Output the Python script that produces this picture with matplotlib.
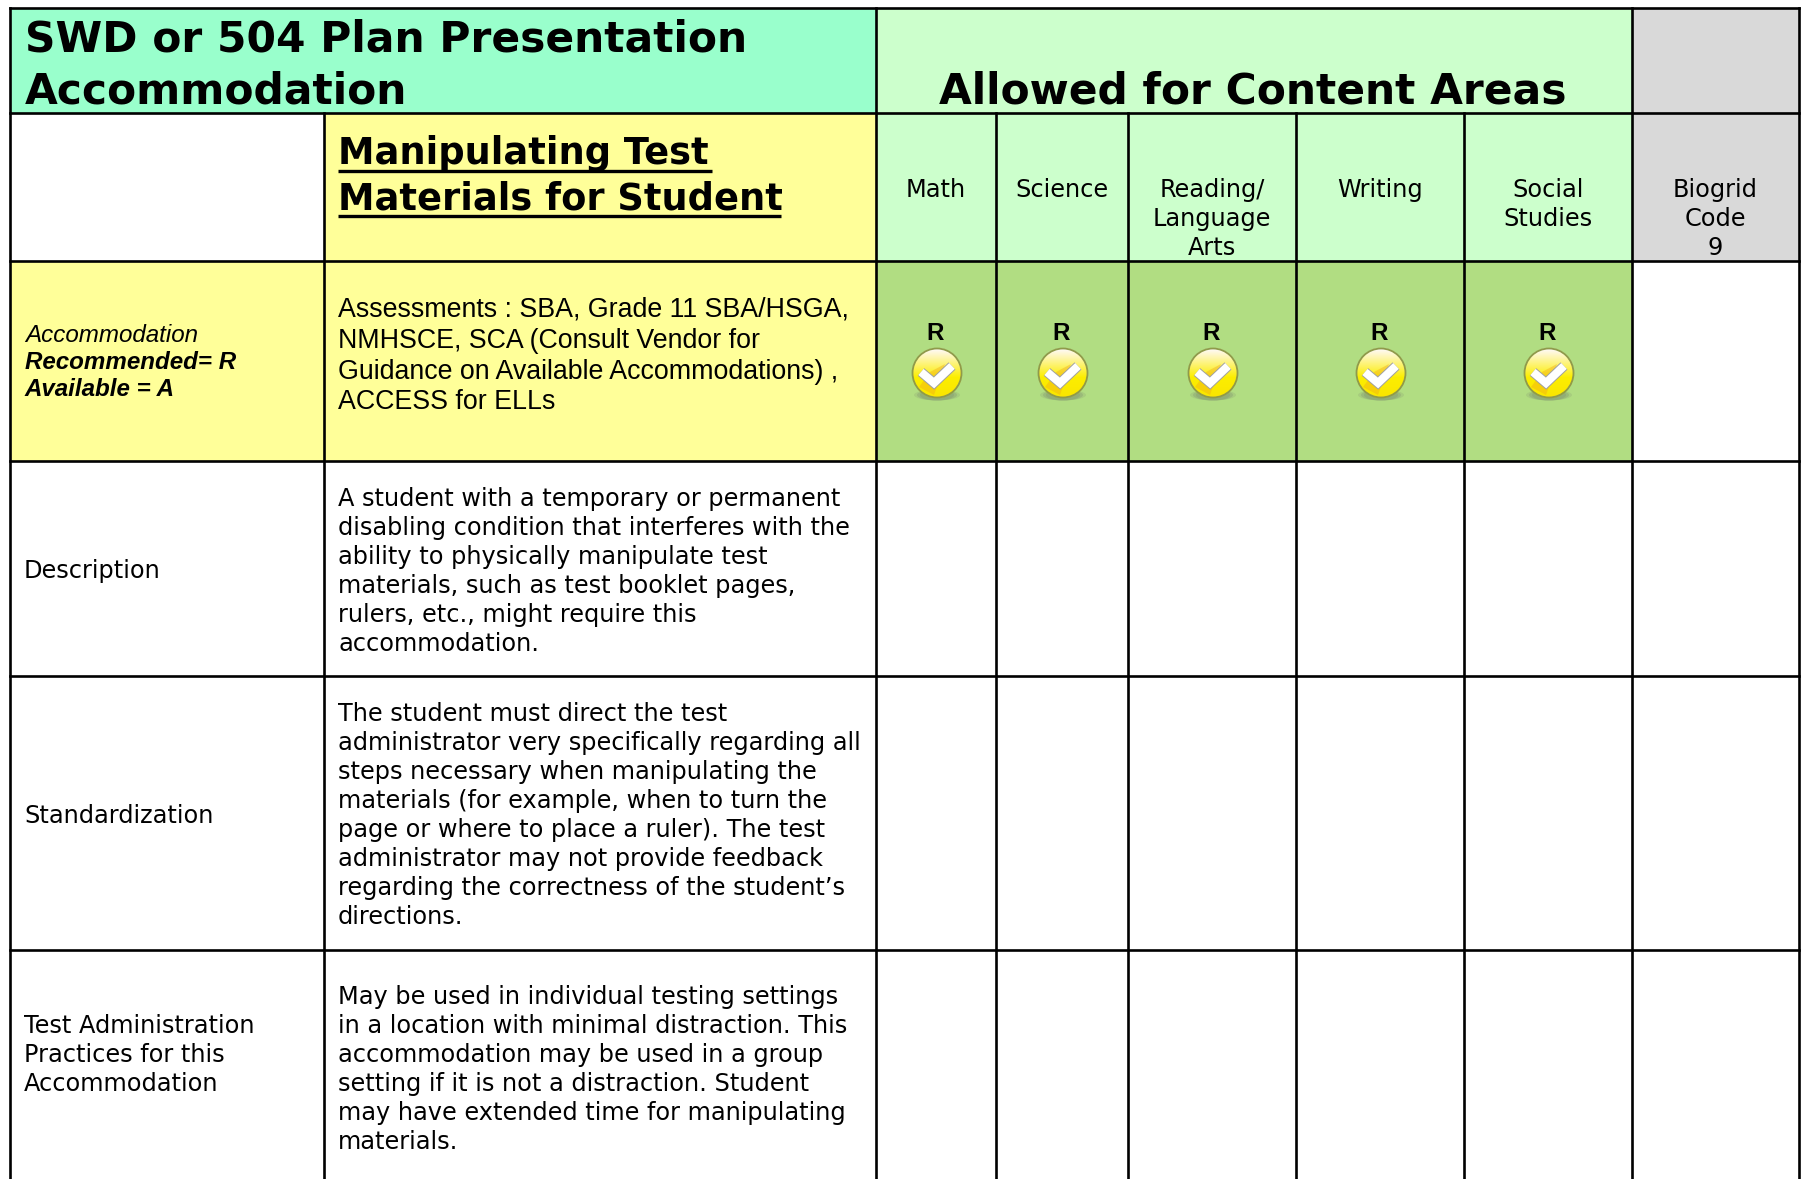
import numpy as np
import matplotlib
matplotlib.use('Agg')
import matplotlib.pyplot as plt
from matplotlib.patches import Rectangle, Circle, Ellipse, Polygon

# table edges in pixels
col_edges = [10, 324, 876, 996, 1128, 1296, 1464, 1632, 1799]
row_edges = [8, 113, 261, 461, 676, 950, 1179]

subjects = ['Math', 'Science', 'Reading/\nLanguage\nArts', 'Writing', 'Social\nStudies', 'Biogrid\nCode\n9']
subject_marks = ['R', 'R', 'R', 'R', 'R']

title_lines = ['SWD or 504 Plan Presentation', 'Accommodation']
allowed_title = 'Allowed for Content Areas'
heading_lines = ['Manipulating Test', 'Materials for Student']
assess_lines = ['Assessments : SBA, Grade 11 SBA/HSGA,',
                'NMHSCE, SCA (Consult Vendor for',
                'Guidance on Available Accommodations) ,',
                'ACCESS for ELLs']
key_lines = ['Accommodation', 'Recommended= R', 'Available = A']
row_labels = ['Description', 'Standardization', 'Test Administration\nPractices for this\nAccommodation']
descr_lines = ['A student with a temporary or permanent',
               'disabling condition that interferes with the',
               'ability to physically manipulate test',
               'materials, such as test booklet pages,',
               'rulers, etc., might require this',
               'accommodation.']
stand_lines = ['The student must direct the test',
               'administrator very specifically regarding all',
               'steps necessary when manipulating the',
               'materials (for example, when to turn the',
               'page or where to place a ruler). The test',
               'administrator may not provide feedback',
               'regarding the correctness of the student\u2019s',
               'directions.']
admin_lines = ['May be used in individual testing settings',
               'in a location with minimal distraction. This',
               'accommodation may be used in a group',
               'setting if it is not a distraction. Student',
               'may have extended time for manipulating',
               'materials.']

MINT = '#99FFCC'
LIGHT = '#CCFFCC'
YELLOW = '#FFFF99'
GREY = '#D9D9D9'
GREEN = '#B1DD82'
LW = 1.9
BODY = 17.3
SANS = 'DejaVu Sans'
ARIAL = 'Liberation Sans'

fig = plt.figure(figsize=(18.09, 11.79), dpi=100)
ax = fig.add_axes([0, 0, 1, 1])
ax.set_xlim(0, 1809)
ax.set_ylim(1179, 0)
ax.axis('off')


def fill(x0, x1, y0, y1, color):
    ax.add_patch(Rectangle((x0, y0), x1 - x0, y1 - y0, fc=color, ec='none', zorder=1))


def lines(x, y, rows, pitch, size, **kw):
    for i, s in enumerate(rows):
        ax.text(x, y + i * pitch, s, fontsize=size, va='baseline', color='black', zorder=5, **kw)


def check_icon(cx, cy, r=25):
    # soft shadow under the ball
    for w, a in [(46, 0.2), (40, 0.3), (34, 0.3)]:
        ax.add_patch(Ellipse((cx, cy + 22), w, 11, fc='#7F8F70', ec='none', alpha=a, zorder=3))
    # yellow ball, pale at top going to strong yellow at the bottom
    g = np.linspace(0, 1, 64)
    rgb = np.ones((64, 1, 3))
    rgb[:, 0, 0] = 1 - 0.02 * g
    rgb[:, 0, 1] = 0.98 - 0.08 * g
    rgb[:, 0, 2] = np.clip(1.0 - 1.7 * g, 0, 1)
    im = ax.imshow(rgb, extent=(cx - r, cx + r, cy + r, cy - r), aspect='auto', zorder=4)
    im.set_clip_path(Circle((cx, cy), r, transform=ax.transData))
    ax.add_patch(Polygon([(cx - 18, cy + 14), (cx - 7, cy - 1), (cx + 8, cy - 9), (cx - 3, cy + 22)],
                         fc='#F0A818', ec='none', alpha=0.4, zorder=4.1))
    ax.add_patch(Circle((cx, cy), r - 0.5, fc='none', ec='#8F9A4A', lw=1.3, zorder=4.4))
    px = [cx - 16, cx - 3, cx + 15]
    py = [cy - 1, cy + 10, cy - 7]
    ax.plot(px, py, color='#A0A0A0', lw=7.2, solid_joinstyle='miter', solid_capstyle='butt', zorder=4.5)
    ax.plot(px, py, color='white', lw=5.8, solid_joinstyle='miter', solid_capstyle='butt', zorder=4.6)


c = col_edges
r = row_edges
fill(c[0], c[2], r[0], r[1], MINT)
fill(c[2], c[7], r[0], r[1], LIGHT)
fill(c[7], c[8], r[0], r[1], GREY)
fill(c[1], c[2], r[1], r[2], YELLOW)
fill(c[2], c[7], r[1], r[2], LIGHT)
fill(c[7], c[8], r[1], r[2], GREY)
fill(c[0], c[2], r[2], r[3], YELLOW)
fill(c[2], c[7], r[2], r[3], GREEN)

# grid lines
for y in r[:-1]:
    ax.plot([c[0], c[-1]], [y, y], color='black', lw=LW, zorder=2, solid_capstyle='projecting')
ax.plot([c[0], c[0]], [r[0], r[-1]], color='black', lw=LW, zorder=2)
ax.plot([c[-1], c[-1]], [r[0], r[-1]], color='black', lw=LW, zorder=2)
ax.plot([c[1], c[1]], [r[1], r[-1]], color='black', lw=LW, zorder=2)
ax.plot([c[2], c[2]], [r[0], r[-1]], color='black', lw=LW, zorder=2)
ax.plot([c[7], c[7]], [r[0], r[-1]], color='black', lw=LW, zorder=2)
for x in c[3:7]:
    ax.plot([x, x], [r[1], r[-1]], color='black', lw=LW, zorder=2)

lines(25, 52, title_lines, 51, 30.5, family=SANS, fontweight='bold')
ax.text(1253, 103, allowed_title, fontsize=30.5, family=SANS, fontweight='bold', ha='center',
        va='baseline', zorder=5)

lines(338, 164, heading_lines, 46, 26.5, family=SANS, fontweight='bold')
ax.plot([338, 712], [171, 171], color='black', lw=2.4, zorder=5, solid_capstyle='butt')
ax.plot([338, 781], [216, 216], color='black', lw=2.4, zorder=5, solid_capstyle='butt')

centers = [(c[i] + c[i + 1]) / 2 for i in range(2, 8)]
for xc, s in zip(centers, subjects):
    lines(xc, 197, s.split('\n'), 29, BODY, family=SANS, ha='center')

for xc, s in zip(centers, subject_marks):
    ax.text(xc - 1, 340, s, fontsize=17.5, family=ARIAL, fontweight='bold', ha='center', va='baseline', zorder=5)
    check_icon(xc + 1, 373)
ax.set_xlim(0, 1809)
ax.set_ylim(1179, 0)

lines(338, 317, assess_lines, 30.8, 19.3, family=ARIAL)
ax.text(25, 342, key_lines[0], fontsize=17.4, family=ARIAL, style='italic', va='baseline', zorder=5)
lines(25, 369, key_lines[1:], 27, 17.4, family=ARIAL, style='italic', fontweight='bold')

lines(24, 578, [row_labels[0]], 29, BODY, family=SANS)
lines(24, 823, [row_labels[1]], 29, BODY, family=SANS)
lines(24, 1033, row_labels[2].split('\n'), 29, BODY, family=SANS)

lines(338, 506, descr_lines, 29, BODY, family=SANS)
lines(338, 721, stand_lines, 29, BODY, family=SANS)
lines(338, 1004, admin_lines, 29, BODY, family=SANS)

fig.savefig('out.png', dpi=100)
